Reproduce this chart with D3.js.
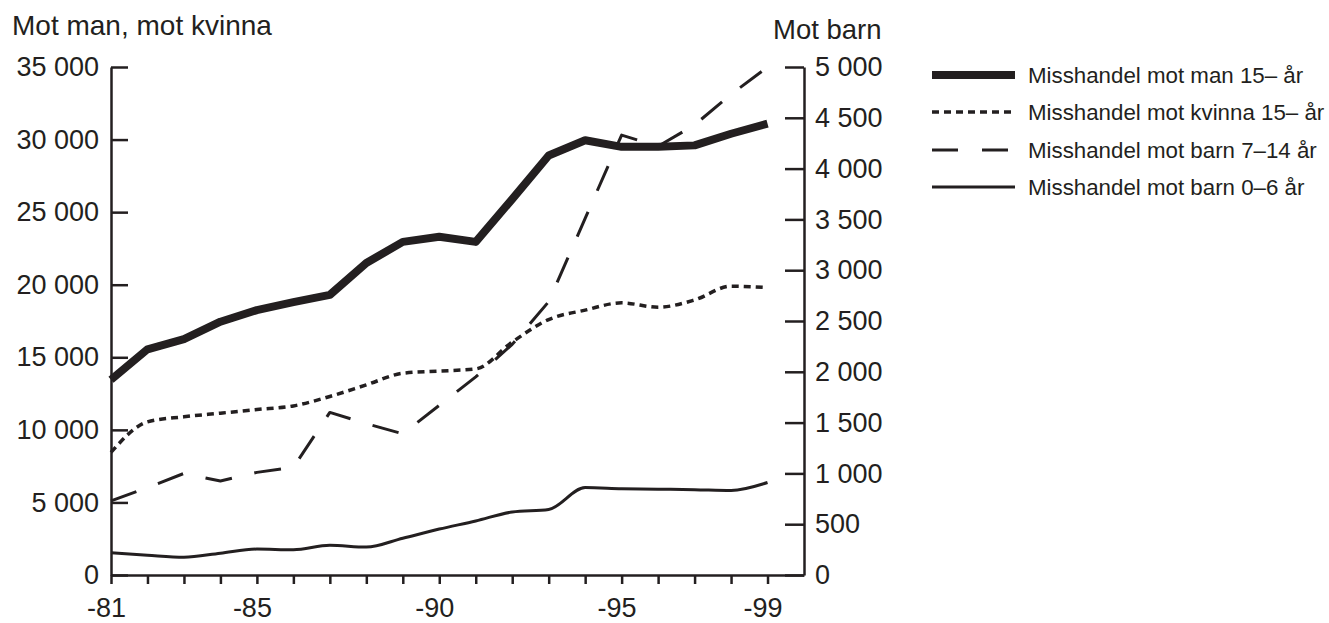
<!DOCTYPE html>
<html>
<head>
<meta charset="utf-8">
<script src="https://cdn.jsdelivr.net/npm/d3@7"></script>
<style>
  html, body { margin: 0; padding: 0; background: #fff; }
  svg { display: block; }
  text { font-family: "Liberation Sans", Arial, Helvetica, sans-serif; fill: #231f20; }
</style>
</head>
<body>
<svg id="chart" width="1329" height="623"></svg>
<script>
// ---- Data ----
const years = [1981,1982,1983,1984,1985,1986,1987,1988,1989,1990,1991,1992,1993,1994,1995,1996,1997,1998,1999];
const manValues    = [13450,15550,16250,17450,18250,18800,19300,21500,22950,23300,22950,25900,28900,29950,29500,29500,29600,30400,31100];
const kvinnaValues = [8450,10550,10900,11150,11400,11650,12300,13100,13900,14050,14200,16050,17600,18250,18750,18450,18950,19900,19800];
const barn714Values = [730,860,1000,925,1010,1060,1600,1490,1390,1670,1950,2270,2690,3510,4330,4220,4430,4730,5000];
const barn06Values  = [220,195,175,215,255,248,292,275,362,452,532,620,645,860,850,845,840,832,910];

const leftTicks = [0,5000,10000,15000,20000,25000,30000,35000];
const leftTickLabels = ["0","5 000","10 000","15 000","20 000","25 000","30 000","35 000"];
const rightTicks = [0,500,1000,1500,2000,2500,3000,3500,4000,4500,5000];
const rightTickLabels = ["0","500","1 000","1 500","2 000","2 500","3 000","3 500","4 000","4 500","5 000"];
const xLabelYears = [1981,1985,1990,1995,1999];
const xLabels = ["-81","-85","-90","-95","-99"];

const seriesNames = ["Misshandel mot man 15\u2013 år","Misshandel mot kvinna 15\u2013 år","Misshandel mot barn 7\u201314 år","Misshandel mot barn 0\u20136 år"];
const leftTitle = "Mot man, mot kvinna";
const rightTitle = "Mot barn";

// ---- Layout ----
const ink = "#231f20";
const svg = d3.select("#chart");
const x = d3.scaleLinear().domain([1981, 2000]).range([111, 804]);
const yL = d3.scaleLinear().domain([0, 35000]).range([575, 67]);
const yR = d3.scaleLinear().domain([0, 5000]).range([575, 67]);

// Axes
const axL = d3.axisLeft(yL).tickValues(leftTicks)
  .tickFormat((d,i) => leftTickLabels[i]).tickSizeInner(-17).tickSizeOuter(0).tickPadding(12);
const axR = d3.axisRight(yR).tickValues(rightTicks)
  .tickFormat((d,i) => rightTickLabels[i]).tickSizeInner(-19).tickSizeOuter(0).tickPadding(11);
const axB = d3.axisBottom(x).tickValues(years)
  .tickFormat(d => { const i = xLabelYears.indexOf(d); return i >= 0 ? xLabels[i] : ""; })
  .tickSizeInner(9).tickSizeOuter(0).tickPadding(14);

function styleAxis(g) {
  g.selectAll("path.domain").attr("stroke", ink).attr("stroke-width", 2.5);
  g.selectAll(".tick line").attr("stroke", ink).attr("stroke-width", 2.5);
  g.selectAll(".tick text").style("font-family", '"Liberation Sans", Arial, sans-serif')
    .style("font-size", "27px").attr("fill", ink);
}

svg.append("g").attr("transform", `translate(${x(1981)},0)`).call(axL).call(styleAxis);
svg.append("g").attr("transform", `translate(${x(2000)},0)`).call(axR).call(styleAxis);
const gB = svg.append("g").attr("transform", `translate(0,${yL(0)})`).call(axB).call(styleAxis);
gB.selectAll(".tick text").attr("dx", "-5px");

// Titles
svg.append("text").attr("x", 12).attr("y", 35).style("font-size", "28px").text(leftTitle);
svg.append("text").attr("x", 773).attr("y", 39).style("font-size", "27.5px").text(rightTitle);

// Lines
const styles = [
  { w: 8,   dash: null,    cap: "butt" },
  { w: 3.5, dash: "7,5",   cap: "butt" },
  { w: 3,   dash: "27,23", cap: "butt" },
  { w: 3,   dash: null,    cap: "butt" }
];
const series = [
  { vals: manValues,     y: yL, curve: d3.curveLinear },
  { vals: kvinnaValues,  y: yL, curve: d3.curveMonotoneX },
  { vals: barn714Values, y: yR, curve: d3.curveLinear },
  { vals: barn06Values,  y: yR, curve: d3.curveMonotoneX }
];
// draw order: thin, dashed, dotted, thick on top
[3,2,1,0].forEach(i => {
  const s = series[i], st = styles[i];
  const line = d3.line().x((d,j) => x(years[j])).y(d => s.y(d)).curve(s.curve);
  svg.append("path").datum(s.vals).attr("d", line)
    .attr("fill", "none").attr("stroke", ink).attr("stroke-width", st.w)
    .attr("stroke-linejoin", "round").attr("stroke-linecap", st.cap)
    .attr("stroke-dasharray", st.dash);
});

// Legend
const legY = [75, 112, 150, 187];
const leg = svg.append("g");
seriesNames.forEach((name, i) => {
  const st = styles[i];
  leg.append("line").attr("x1", 932).attr("x2", 1015).attr("y1", legY[i]).attr("y2", legY[i])
    .attr("stroke", ink).attr("stroke-width", st.w).attr("stroke-dasharray", i === 2 ? "26,24" : st.dash);
  leg.append("text").attr("x", 1028).attr("y", legY[i]).attr("dy", "0.35em")
    .style("font-size", "22.3px").text(name);
});
</script>
</body>
</html>
